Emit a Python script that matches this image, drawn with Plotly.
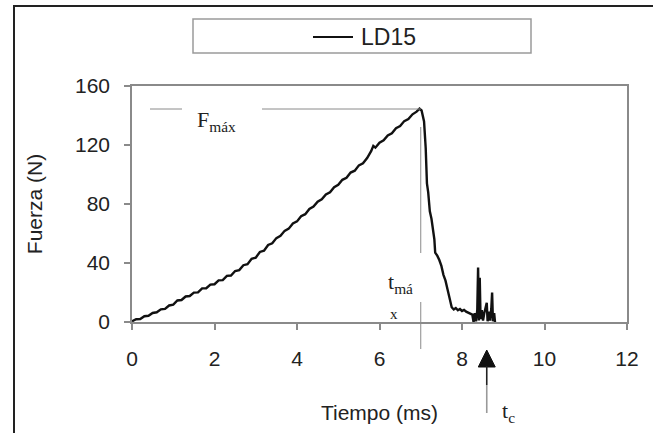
import plotly.graph_objects as go

# ---------------- data ----------------
time_ms = [0.00, 0.10, 0.20, 0.30, 0.40, 0.50, 0.60, 0.70, 0.80, 0.90,
           1.00, 1.10, 1.20, 1.30, 1.40, 1.50, 1.60, 1.70, 1.80, 1.90,
           2.00, 2.10, 2.20, 2.30, 2.40, 2.50, 2.60, 2.70, 2.80, 2.90,
           3.00, 3.10, 3.20, 3.30, 3.40, 3.50, 3.60, 3.70, 3.80, 3.90,
           4.00, 4.10, 4.20, 4.30, 4.40, 4.50, 4.60, 4.70, 4.80, 4.90,
           5.00, 5.10, 5.20, 5.30, 5.40, 5.50, 5.60, 5.70, 5.80, 5.85,
           5.90, 6.00, 6.10, 6.20, 6.30, 6.40, 6.50, 6.60, 6.70, 6.80,
           6.90, 6.97, 7.02, 7.08, 7.12, 7.15, 7.18, 7.22, 7.26, 7.30,
           7.33, 7.35, 7.40, 7.45, 7.50, 7.55, 7.60, 7.65, 7.70, 7.75,
           7.80, 7.85, 7.90, 7.95, 8.00, 8.05, 8.10, 8.15, 8.20, 8.25,
           8.28, 8.31, 8.34, 8.37, 8.39, 8.41, 8.43, 8.45, 8.48, 8.51,
           8.54, 8.57, 8.60, 8.62, 8.65, 8.68, 8.71, 8.73, 8.75, 8.78,
           8.80]
force_N = [0.5, 1.9, 2.0, 3.9, 4.2, 6.1, 6.6, 8.6, 8.9, 11.2,
           11.8, 14.6, 14.9, 17.3, 17.6, 19.9, 20.1, 22.8, 22.9, 25.3,
           25.6, 28.2, 28.4, 31.3, 31.5, 34.6, 35.2, 38.5, 39.2, 42.8,
           43.6, 47.5, 48.3, 52.2, 53.4, 56.9, 58.4, 61.8, 63.3, 66.8,
           68.2, 71.7, 73.1, 76.6, 78.2, 81.5, 83.2, 86.4, 88.0, 91.4,
           93.0, 96.4, 97.8, 101.3, 102.6, 106.2, 107.6, 111.2, 116.0, 119.4,
           118.2, 121.6, 123.2, 126.5, 128.0, 131.4, 132.8, 136.2, 137.6, 140.8,
           142.6, 144.6, 143.4, 136.0, 118.0, 94.0, 88.0, 75.0, 70.0, 63.0,
           56.0, 47.0, 45.0, 42.0, 38.0, 32.0, 28.0, 22.0, 16.0, 10.0,
           8.5, 9.5, 8.0, 8.8, 7.5, 8.2, 7.0, 6.5, 6.0, 5.0,
           0.0, 6.0, 0.5, 8.0, 37.0, 1.0, 30.0, 2.0, 8.0, 1.0,
           6.0, 9.0, 13.0, 0.5, 7.0, 1.0, 9.0, 20.0, 0.5, 6.0,
           0.0]
series_name = "LD15"
x_ticks = [0, 2, 4, 6, 8, 10, 12]
y_ticks = [0, 40, 80, 120, 160]
F_MAX = 144.4     # level of the F_max marker line
T_MAX = 7.0       # time of maximum force
T_C = 8.6         # crack time (arrow)

# ---------------- layout geometry (pixels) ----------------
W, H = 653, 433
L, R, T, B = 132, 26, 86, 111
PW, PH = W - L - R, H - T - B


def px(p):      # pixel x -> paper x
    return (p - L) / PW


def py(p):      # pixel y -> paper y
    return (H - B - p) / PH


def tx(p):      # pixel x -> data x
    return (p - L) / PW * 12.0


SERIF = "Liberation Serif, Times New Roman, serif"
SANS = "Liberation Sans, Arial, sans-serif"
TXT = "#222222"
GRAY = "#8a8a8a"

fig = go.Figure()
fig.add_trace(go.Scatter(x=time_ms, y=force_N, mode="lines", name=series_name,
                         line=dict(color="#111111", width=2.4), showlegend=False))

shapes = []
# outer frame of the picture
shapes.append(dict(type="rect", xref="paper", yref="paper",
                   x0=px(14), x1=px(680), y0=py(460), y1=py(6),
                   line=dict(color="#222222", width=2)))
# legend box
shapes.append(dict(type="rect", xref="paper", yref="paper",
                   x0=px(193), x1=px(531), y0=py(53), y1=py(19),
                   line=dict(color="#9a9a9a", width=1.5), fillcolor="white"))
shapes.append(dict(type="line", xref="paper", yref="paper",
                   x0=px(313), x1=px(353), y0=py(37), y1=py(37),
                   line=dict(color="#111111", width=2)))
# F_max marker line (with gap for its label)
shapes.append(dict(type="line", xref="x", yref="y", x0=tx(150), x1=tx(182),
                   y0=F_MAX, y1=F_MAX, line=dict(color=GRAY, width=1)))
shapes.append(dict(type="line", xref="x", yref="y", x0=tx(262), x1=T_MAX,
                   y0=F_MAX, y1=F_MAX, line=dict(color=GRAY, width=1)))
# t_max vertical line (with gap for its label)
shapes.append(dict(type="line", xref="x", yref="paper", x0=T_MAX, x1=T_MAX,
                   y0=py(253), y1=py(127), line=dict(color=GRAY, width=1)))
shapes.append(dict(type="line", xref="x", yref="paper", x0=T_MAX, x1=T_MAX,
                   y0=py(349), y1=py(302), line=dict(color=GRAY, width=1)))
# t_c arrow
half = tx(L + 8.5)
shapes.append(dict(type="path", xref="x", yref="paper",
                   path=(f"M {T_C} {py(350)} L {T_C - half} {py(367)} "
                         f"L {T_C + half} {py(367)} Z"),
                   fillcolor="#111111", line=dict(color="#111111", width=1)))
shapes.append(dict(type="line", xref="x", yref="paper", x0=T_C, x1=T_C,
                   y0=py(385), y1=py(366), line=dict(color="#222222", width=1.6)))
shapes.append(dict(type="line", xref="x", yref="paper", x0=T_C, x1=T_C,
                   y0=py(413), y1=py(385), line=dict(color="#999999", width=1.6)))

annotations = [
    dict(text=series_name, xref="paper", yref="paper", x=px(359), y=py(37),
         xanchor="left", yanchor="middle", showarrow=False,
         font=dict(family=SANS, size=23, color=TXT)),
    dict(text="F<sub>máx</sub>", xref="paper", yref="paper", x=px(195), y=py(121),
         xanchor="left", yanchor="middle", showarrow=False,
         font=dict(family=SERIF, size=22, color=TXT)),
    dict(text="t<sub>má</sub>", xref="paper", yref="paper", x=px(386), y=py(283),
         xanchor="left", yanchor="middle", showarrow=False,
         font=dict(family=SERIF, size=22, color=TXT)),
    dict(text="x", xref="paper", yref="paper", x=px(394), y=py(314),
         xanchor="center", yanchor="middle", showarrow=False,
         font=dict(family=SERIF, size=15, color=TXT)),
    dict(text="t<sub>c</sub>", xref="paper", yref="paper", x=px(500), y=py(412),
         xanchor="left", yanchor="middle", showarrow=False,
         font=dict(family=SERIF, size=22, color=TXT)),
]

axis_common = dict(showline=True, linecolor=GRAY, linewidth=1.5, mirror=True,
                   ticks="outside", ticklen=6, tickcolor=GRAY, tickwidth=1.5,
                   showgrid=False, zeroline=False,
                   tickfont=dict(family=SANS, size=21, color=TXT))

fig.update_layout(
    width=W, height=H, autosize=False,
    margin=dict(l=L, r=R, t=T, b=B, pad=0),
    paper_bgcolor="white", plot_bgcolor="white",
    shapes=shapes, annotations=annotations,
    xaxis=dict(range=[0, 12], tickvals=x_ticks, ticklabelstandoff=11,
               title=dict(text="Tiempo (ms)", standoff=36,
                          font=dict(family=SANS, size=21, color=TXT)),
               **axis_common),
    yaxis=dict(range=[0, 160], tickvals=y_ticks, ticklabelstandoff=10,
               title=dict(text="Fuerza (N)", standoff=27,
                          font=dict(family=SANS, size=21, color=TXT)),
               **axis_common),
    showlegend=False,
)

fig.write_html("out.html",
               config={"displayModeBar": False},
               post_script="document.body.style.margin='0px';"
                           "document.body.style.overflow='hidden';")
